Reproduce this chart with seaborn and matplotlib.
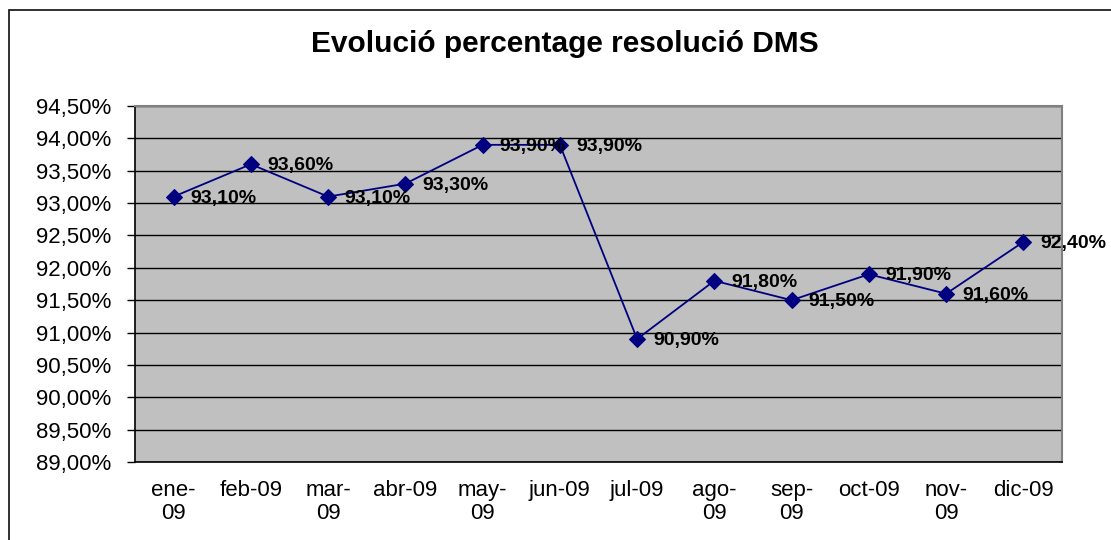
import matplotlib
matplotlib.use("Agg")
import matplotlib.pyplot as plt
import seaborn as sns
import pandas as pd
from matplotlib.ticker import FuncFormatter, MultipleLocator
from matplotlib.patches import Rectangle

# Chart data
months = ["ene-09", "feb-09", "mar-09", "abr-09", "may-09", "jun-09",
          "jul-09", "ago-09", "sep-09", "oct-09", "nov-09", "dic-09"]
tick_labels = ["ene-\n09", "feb-09", "mar-\n09", "abr-09", "may-\n09", "jun-09",
               "jul-09", "ago-\n09", "sep-\n09", "oct-09", "nov-\n09", "dic-09"]
resolucio = [93.1, 93.6, 93.1, 93.3, 93.9, 93.9, 90.9, 91.8, 91.5, 91.9, 91.6, 92.4]

df = pd.DataFrame({"mes": months, "pct": resolucio})

sns.set_style("white")
plt.rcParams["font.family"] = ["Liberation Sans", "DejaVu Sans"]
plt.rcParams["text.color"] = "black"
plt.rcParams["xtick.color"] = "black"
plt.rcParams["ytick.color"] = "black"

fig = plt.figure(figsize=(11.11, 5.4), dpi=100)
ax = fig.add_axes([135 / 1111, 1 - 462 / 540, 927 / 1111, 356 / 540])
ax.set_facecolor("#C0C0C0")

# outer chart border (only top/left visible in the crop)
fig.patches.append(Rectangle((9 / 1111, -0.1), 1.2, 1 - 10 / 540 + 0.1,
                             transform=fig.transFigure, fill=False,
                             edgecolor="#202020", linewidth=1.3))

sns.lineplot(data=df, x="mes", y="pct", ax=ax, color="#000080",
             marker="D", markersize=8, markeredgecolor="#000080",
             linewidth=1.3, sort=False)

for i, v in enumerate(resolucio):
    ax.annotate(f"{v:.2f}%".replace(".", ","), (i, v), xytext=(12, -1),
                textcoords="offset points", ha="left", va="center",
                fontsize=14, fontweight="bold", color="black")

ax.set_xlim(-0.5, 11.5)
ax.set_ylim(89, 94.5)
ax.yaxis.set_major_locator(MultipleLocator(0.5))
ax.yaxis.set_major_formatter(FuncFormatter(lambda y, _: f"{y:.2f}%".replace(".", ",")))
ax.grid(axis="y", color="black", linewidth=1)
ax.set_axisbelow(True)

ax.set_xticks(range(12))
ax.set_xticklabels(tick_labels, linespacing=1.15)
ax.set_xticks([x - 0.5 for x in range(13)], minor=True)
ax.tick_params(axis="x", which="major", length=0, pad=13, labelsize=16)
ax.tick_params(axis="x", which="minor", length=6, width=1, color="black", direction="out")
ax.tick_params(axis="y", length=6, width=1, color="black", pad=11, labelsize=16, direction="out", left=True)

ax.set_xlabel("")
ax.set_ylabel("")
for side in ["left", "bottom"]:
    ax.spines[side].set_color("black")
    ax.spines[side].set_linewidth(1.2)
for side in ["right", "top"]:
    ax.spines[side].set_visible(True)
    ax.spines[side].set_color("#808080")
    ax.spines[side].set_linewidth(1.5)

fig.text(565 / 1111, 1 - 44 / 540, "Evolució percentage resolució DMS",
         ha="center", va="center", fontsize=21.5, fontweight="bold")

fig.savefig("out.png", dpi=100, facecolor="white")
